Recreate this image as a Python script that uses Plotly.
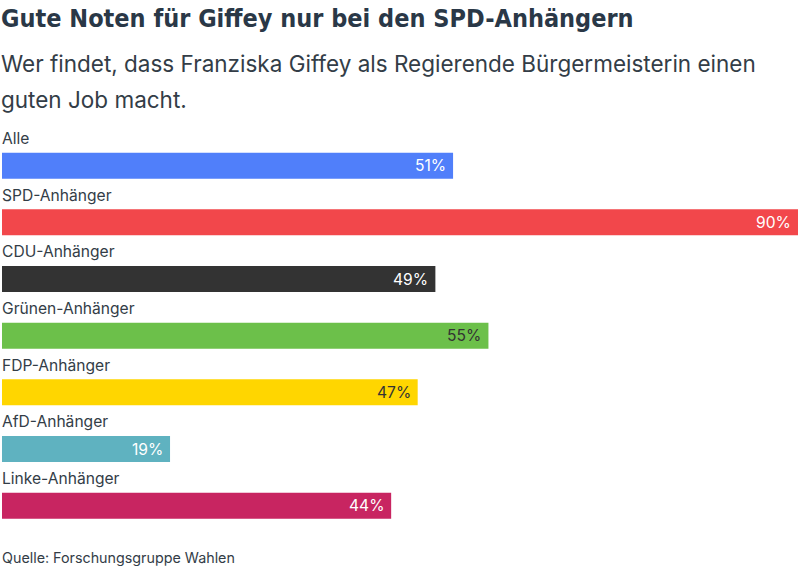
import plotly.graph_objects as go

categories = ["Alle", "SPD-Anhänger", "CDU-Anhänger", "Grünen-Anhänger",
              "FDP-Anhänger", "AfD-Anhänger", "Linke-Anhänger"]
values = [51, 90, 49, 55, 47, 19, 44]
colors = ["#507ffa", "#f2474b", "#333333", "#6cc04a", "#ffd600", "#5fb2c0", "#c82561"]
label_colors = ["#ffffff", "#ffffff", "#ffffff", "#333333", "#333333", "#ffffff", "#ffffff"]

title = "Gute Noten für Giffey nur bei den SPD-Anhängern"
subtitle_lines = ["Wer findet, dass Franziska Giffey als Regierende Bürgermeisterin einen",
                  "guten Job macht."]
source = "Quelle: Forschungsgruppe Wahlen"

W, H = 800, 568
T, B = 109, 34
PH = H - T - B

def py(px):
    return (H - B - px) / PH

ypos = list(range(len(categories)))

fig = go.Figure(go.Bar(
    x=values, y=ypos, orientation="h",
    marker=dict(color=colors, line=dict(width=0)),
    width=0.46, hoverinfo="skip",
))

ann = []
for i, (c, v, lc) in enumerate(zip(categories, values, label_colors)):
    ann.append(dict(x=0, y=i - 0.48, xref="x", yref="y", text=c, showarrow=False,
                    xanchor="left", yanchor="middle", xshift=-2,
                    font=dict(family="Inter", size=15.6, color="#333d47")))
    ann.append(dict(x=v, y=i, xref="x", yref="y", text=f"{v}%", showarrow=False,
                    xanchor="right", yanchor="middle", xshift=-5,
                    font=dict(family="Inter", size=15.6, color=lc)))

ann.append(dict(x=0, y=py(18), xref="paper", yref="paper", text=f"<b>{title}</b>",
                showarrow=False, xanchor="left", yanchor="middle", xshift=-3,
                font=dict(family="DejaVu Sans Condensed", size=25, color="#2a3847")))
for k, line in enumerate(subtitle_lines):
    ann.append(dict(x=0, y=py(64 + 35 * k), xref="paper", yref="paper", text=line,
                    showarrow=False, xanchor="left", yanchor="middle", xshift=-3,
                    font=dict(family="Inter", size=22.5, color="#333d47")))
ann.append(dict(x=0, y=py(558), xref="paper", yref="paper", text=source,
                showarrow=False, xanchor="left", yanchor="middle", xshift=-2,
                font=dict(family="Inter", size=14.3, color="#333d47")))

fig.update_layout(
    width=W, height=H,
    margin=dict(l=2, r=2, t=T, b=B, pad=0),
    paper_bgcolor="white", plot_bgcolor="white",
    xaxis=dict(range=[0, 90], visible=False, fixedrange=True),
    yaxis=dict(range=[6.5, -1], visible=False, fixedrange=True),
    showlegend=False,
    annotations=ann,
)

fig.write_html("out.html", config=dict(displayModeBar=False))
